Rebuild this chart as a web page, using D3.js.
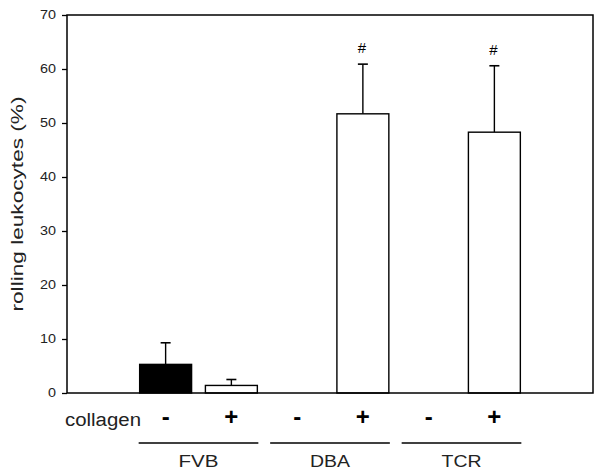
<!DOCTYPE html>
<html>
<head>
<meta charset="utf-8">
<script src="https://cdn.jsdelivr.net/npm/d3@7"></script>
<style>
  body { margin: 0; background: #fff; }
  text { font-family: "Liberation Sans", Arial, sans-serif; fill: #000; }
</style>
</head>
<body>
<div id="chart"></div>
<script>
// Data
const groups = ["FVB", "DBA", "TCR"];
const collagen = ["-", "+"];
const means = [5.3, 1.4, null, 51.7, null, 48.3];
const errTop = [9.3, 2.5, null, 60.9, null, 60.6];
const filled = [true, false, false, false, false, false];
const marks = ["", "", "", "#", "", "#"];
const yTicks = [0, 10, 20, 30, 40, 50, 60, 70];

const width = 600, height = 474;
const margin = { top: 15, right: 7, bottom: 81, left: 67 };

const svg = d3.select("#chart")
    .append("svg")
    .attr("width", width)
    .attr("height", height);

// one slot per group/collagen pair, with an empty slot at each end
var slots = ["padL"];
groups.forEach(g => collagen.forEach(c => slots.push(g + c)));
slots.push("padR");

var x = d3.scaleBand()
    .domain(slots)
    .range([margin.left, width - margin.right])
    .paddingInner(0.21)
    .paddingOuter(0.105);

var y = d3.scaleLinear()
    .domain([0, 70])
    .range([height - margin.bottom, margin.top]);

var bars = [];
groups.forEach((g, gi) => collagen.forEach((c, ci) => {
    var i = gi * 2 + ci;
    bars.push({ key: g + c, mean: means[i], err: errTop[i], fill: filled[i], mark: marks[i] });
}));
var shown = bars.filter(d => d.mean != null);

// error bars (drawn first so bar covers the bottom part)
svg.selectAll(".err")
    .data(shown)
    .enter().append("line")
    .attr("x1", d => x(d.key) + x.bandwidth() / 2)
    .attr("x2", d => x(d.key) + x.bandwidth() / 2)
    .attr("y1", d => y(d.mean))
    .attr("y2", d => y(d.err))
    .style("stroke", "#000")
    .style("stroke-width", 1.4);

svg.selectAll(".cap")
    .data(shown)
    .enter().append("line")
    .attr("x1", d => x(d.key) + x.bandwidth() / 2 - 5)
    .attr("x2", d => x(d.key) + x.bandwidth() / 2 + 5)
    .attr("y1", d => y(d.err))
    .attr("y2", d => y(d.err))
    .style("stroke", "#000")
    .style("stroke-width", 1.6);

svg.selectAll(".bar")
    .data(shown)
    .enter().append("rect")
    .attr("x", d => x(d.key))
    .attr("width", x.bandwidth())
    .attr("y", d => y(d.mean))
    .attr("height", d => y(0) - y(d.mean))
    .style("fill", d => d.fill ? "#000" : "#fff")
    .style("stroke", "#000")
    .style("stroke-width", 1.4);

// significance marks
svg.selectAll(".mark")
    .data(shown.filter(d => d.mark))
    .enter().append("text")
    .attr("x", d => x(d.key) + x.bandwidth() / 2 - 1)
    .attr("y", d => y(d.err) - 11)
    .attr("text-anchor", "middle")
    .style("font-size", "15px")
    .text(d => d.mark);

// frame
svg.append("rect")
    .attr("x", margin.left)
    .attr("y", margin.top)
    .attr("width", width - margin.left - margin.right)
    .attr("height", height - margin.top - margin.bottom)
    .style("fill", "none")
    .style("stroke", "#000")
    .style("stroke-width", 1.5);

// y axis
var yAxis = svg.append("g")
    .attr("transform", `translate(${margin.left}, 0)`)
    .call(d3.axisLeft(y).tickValues(yTicks).tickSize(5).tickPadding(6));
yAxis.select(".domain").remove();
yAxis.selectAll(".tick line").style("stroke-width", 1.3);
yAxis.selectAll(".tick text")
    .style("font-size", "12px")
    .style("font-family", "'Liberation Sans', Arial, sans-serif")
    .style("fill", "#222")
    .attr("textLength", d => String(d).length * 8)
    .attr("lengthAdjust", "spacingAndGlyphs");

// y title
svg.append("text")
    .attr("transform", `translate(23, ${(y(0) + y(70)) / 2}) rotate(-90)`)
    .attr("text-anchor", "middle")
    .attr("textLength", 215)
    .attr("lengthAdjust", "spacingAndGlyphs")
    .style("font-size", "16px")
    .style("fill", "#222")
    .text("rolling leukocytes (%)");

// collagen row
svg.append("text")
    .attr("x", 65)
    .attr("y", 426)
    .attr("textLength", 76)
    .attr("lengthAdjust", "spacingAndGlyphs")
    .style("font-size", "18px")
    .style("fill", "#222")
    .text("collagen");

svg.selectAll(".sign")
    .data(bars)
    .enter().append("text")
    .attr("x", d => x(d.key) + x.bandwidth() / 2)
    .attr("y", 425)
    .attr("text-anchor", "middle")
    .style("font-size", "24px")
    .style("font-weight", "bold")
    .text(d => d.key.slice(-1));

// group underlines and names
groups.forEach(g => {
    var x0 = x(g + "-") - 1;
    var x1 = x(g + "+") + x.bandwidth() + 1;
    svg.append("line")
        .attr("x1", x0).attr("x2", x1)
        .attr("y1", 443).attr("y2", 443)
        .style("stroke", "#000")
        .style("stroke-width", 1.4);
    svg.append("text")
        .attr("x", (x0 + x1) / 2)
        .attr("y", 467)
        .attr("text-anchor", "middle")
        .attr("textLength", 40)
        .attr("lengthAdjust", "spacingAndGlyphs")
        .style("font-size", "17px")
        .style("fill", "#222")
        .text(g);
});
</script>
</body>
</html>
